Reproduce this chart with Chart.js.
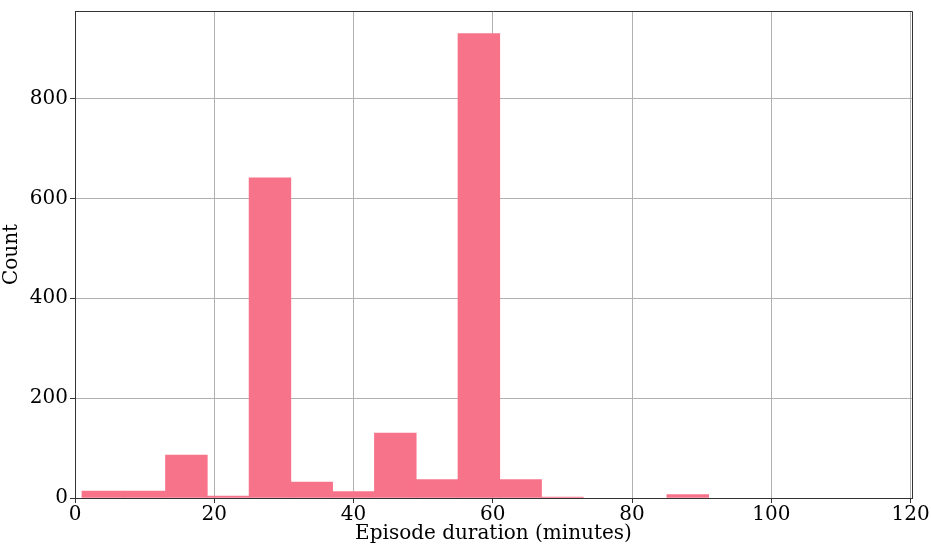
<!DOCTYPE html>
<html>
<head>
<meta charset="utf-8">
<script src="https://cdn.jsdelivr.net/npm/chart.js@4"></script>
<style>
    html, body { margin: 0; padding: 0; background: #fff; }
    #wrap { width: 931px; height: 546px; }
</style>
</head>
<body>
<div id="wrap"><canvas id="histogram"></canvas></div>
<script>
// histogram bins: 6 minutes wide, starting at 1
const binCenters = [4, 10, 16, 22, 28, 34, 40, 46, 52, 58, 64, 70, 76, 82, 88, 94, 100, 106, 112, 118];
const counts = [14, 14, 86, 4, 641, 32, 13, 130, 37, 930, 37, 2, 0, 0, 7, 0, 0, 0, 0, 0];
const xTicks = [0, 20, 40, 60, 80, 100, 120];
const yTicks = [0, 200, 400, 600, 800];

const serif = "'DejaVu Serif', serif";

// top and right spines
const frame = {
    id: "frame",
    afterDraw(chart) {
        const { ctx, chartArea } = chart;
        ctx.save();
        ctx.strokeStyle = "#333";
        ctx.lineWidth = 1;
        ctx.beginPath();
        ctx.moveTo(chartArea.left, chartArea.top + 0.5);
        ctx.lineTo(chartArea.right + 0.5, chartArea.top + 0.5);
        ctx.lineTo(chartArea.right + 0.5, chartArea.bottom);
        ctx.stroke();
        ctx.restore();
    },
};

// empty bins get no bar at all
const points = binCenters
    .map((x, i) => ({ x: x, y: counts[i] }))
    .filter((p) => p.y > 0);

const ctx = document.getElementById("histogram").getContext("2d");
new Chart(ctx, {
    type: "bar",
    data: {
        datasets: [
            {
                data: points,
                backgroundColor: "rgb(247, 115, 138)",
                borderWidth: 0,
                barPercentage: 1,
                categoryPercentage: 1,
            },
        ],
    },
    options: {
        responsive: true,
        maintainAspectRatio: false,
        animation: false,
        layout: { padding: { top: 11, right: 19, left: 0, bottom: 0 } },
        plugins: {
            legend: { display: false },
            tooltip: { enabled: false },
        },
        scales: {
            x: {
                type: "linear",
                min: 0,
                max: 120.2,
                offset: false,
                z: 1,
                afterBuildTicks: (scale) => {
                    scale.ticks = xTicks.map((v) => ({ value: v }));
                },
                afterFit: (scale) => {
                    scale.height = 48;
                },
                grid: {
                    offset: false,
                    color: "#b0b0b0",
                    lineWidth: 1,
                    tickLength: 5,
                    tickColor: "#333",
                },
                border: { color: "#333", width: 1 },
                ticks: {
                    color: "#000",
                    padding: 0,
                    maxRotation: 0,
                    font: { family: serif, size: 20 },
                },
                title: {
                    display: true,
                    text: "Episode duration (minutes)",
                    color: "#000",
                    padding: { top: -4, bottom: 0 },
                    font: { family: serif, size: 20 },
                },
            },
            y: {
                min: 0,
                max: 975,
                z: 1,
                afterBuildTicks: (scale) => {
                    scale.ticks = yTicks.map((v) => ({ value: v }));
                },
                afterFit: (scale) => {
                    scale.width = 75;
                    scale.paddingTop = 0;
                    scale.paddingBottom = 0;
                },
                grid: {
                    color: "#b0b0b0",
                    lineWidth: 1,
                    tickLength: 5,
                    tickColor: "#333",
                },
                border: { color: "#333", width: 1 },
                ticks: {
                    color: "#000",
                    padding: 2,
                    font: { family: serif, size: 20 },
                },
                title: {
                    display: true,
                    text: "Count",
                    color: "#000",
                    padding: { top: 0, bottom: 4 },
                    font: { family: serif, size: 20 },
                },
            },
        },
    },
    plugins: [frame],
});
</script>
</body>
</html>
